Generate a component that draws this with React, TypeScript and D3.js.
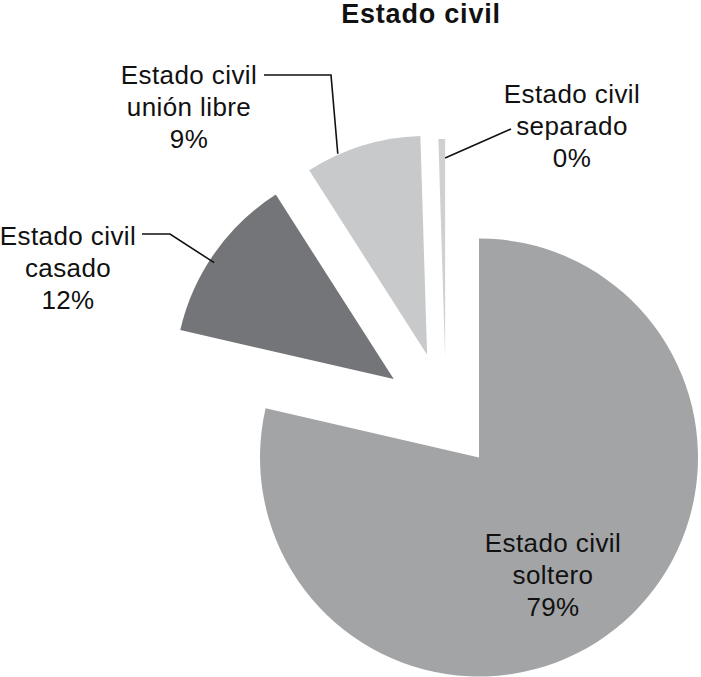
import React from "react";
import * as d3 from "d3";

const categories = ["soltero", "casado", "unión libre", "separado"];
const values = [78.6, 12.35, 8.56, 0.49];
const colors = ["#a3a4a6", "#747578", "#c8c9cb", "#cfd0d2"];
const title = "Estado civil";

const W = 701;
const H = 677;
const CX = 446;
const CY = 416;
const R = 219;
const explode = [53, 64, 64, 58];

// label layout: center x, first baseline y, leader polyline (label side) and arc fraction/radius for leader end
const labelLayout = [
  { x: 553, y: 552, leader: null as null | number[][], frac: 0, rad: 0 },
  { x: 68, y: 245, leader: [[142, 234], [170, 234]], frac: 0.45, rad: 214 },
  { x: 189, y: 84, leader: [[264, 75], [331, 75]], frac: 0.28, rad: 220 },
  { x: 572, y: 103, leader: [[511, 129]], frac: 1.0, rad: 200 },
];

const FONT = "'Liberation Sans', Arial, Helvetica, sans-serif";

export default function App() {
  const pie = d3.pie<number>().sort(null).value((d) => d).startAngle(0).endAngle(2 * Math.PI);
  const arcs = pie(values);
  const arc = d3.arc<d3.PieArcDatum<number>>().innerRadius(0).outerRadius(R);
  const total = d3.sum(values);
  const fmt = d3.format(".0%");

  return (
    <svg width={W} height={H} style={{ position: "absolute", left: 0, top: 0, background: "#fff" }}>
      <text x={421} y={23} textAnchor="middle" fontFamily={FONT} fontSize={27} fontWeight={700} letterSpacing={0.8} fill="#111">
        {title}
      </text>
      {arcs.map((a, i) => {
        const mid = (a.startAngle + a.endAngle) / 2;
        const ox = CX + Math.sin(mid) * explode[i];
        const oy = CY - Math.cos(mid) * explode[i];
        return (
          <path key={"s" + i} d={arc(a) || ""} transform={`translate(${ox},${oy})`} fill={colors[i]} />
        );
      })}
      {arcs.map((a, i) => {
        const L = labelLayout[i];
        const mid = (a.startAngle + a.endAngle) / 2;
        const ox = CX + Math.sin(mid) * explode[i];
        const oy = CY - Math.cos(mid) * explode[i];
        const ang = a.startAngle + (a.endAngle - a.startAngle) * L.frac;
        const end = [ox + Math.sin(ang) * L.rad, oy - Math.cos(ang) * L.rad];
        const pts = L.leader ? [...L.leader, end] : null;
        const lines = ["Estado civil", categories[i], fmt(values[i] / total)];
        return (
          <g key={"l" + i}>
            {pts && (
              <polyline points={pts.map((p) => p.join(",")).join(" ")} fill="none" stroke="#111" strokeWidth={1.6} />
            )}
            <text textAnchor="middle" fontFamily={FONT} fontSize={26} letterSpacing={0.4} fill="#111">
              {lines.map((t, j) => (
                <tspan key={j} x={L.x} y={L.y + j * 32}>
                  {t}
                </tspan>
              ))}
            </text>
          </g>
        );
      })}
    </svg>
  );
}
